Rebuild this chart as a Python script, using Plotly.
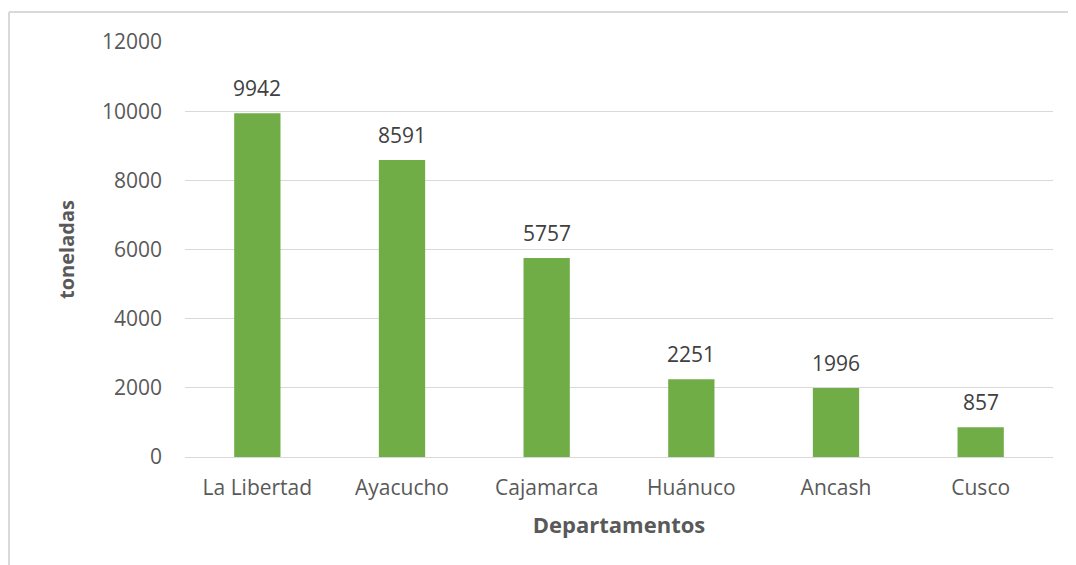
import plotly.graph_objects as go

departamentos = ["La Libertad", "Ayacucho", "Cajamarca", "Huánuco", "Ancash", "Cusco"]
toneladas = [9942, 8591, 5757, 2251, 1996, 857]
y_ticks = [0, 2000, 4000, 6000, 8000, 10000, 12000]
y_tick_labels = ["0", "2000", "4000", "6000", "8000", "10000", "12000"]

FONT = "Open Sans, Liberation Sans, sans-serif"

# page body has an 8px offset; margins compensate
L, T, R, B = 177, 34, 31, 116
PW = 1076 - L - R
PH = 565 - T - B

fig = go.Figure(go.Bar(
    x=departamentos, y=toneladas,
    marker=dict(color="#70ad47", line=dict(width=0)),
    hoverinfo="x+y",
))

for d, v in zip(departamentos, toneladas):
    fig.add_annotation(
        x=d, y=v, text=str(v), showarrow=False,
        xanchor="center", yanchor="bottom", yshift=9,
        font=dict(family=FONT, size=21, color="#404040"),
    )

fig.update_layout(
    width=1076, height=565,
    margin=dict(l=L, r=R, t=T, b=B),
    paper_bgcolor="white", plot_bgcolor="white",
    bargap=0.68, showlegend=False,
    font=dict(family=FONT, color="#595959"),
    xaxis=dict(
        tickfont=dict(size=21, color="#595959"),
        title=dict(text="<b>Departamentos</b>", font=dict(size=22, color="#595959"), standoff=17),
        showgrid=False, showline=False, ticks="", ticklabelstandoff=16,
    ),
    yaxis=dict(
        range=[0, 12000], tickvals=y_ticks, ticktext=y_tick_labels,
        tickfont=dict(size=21, color="#595959"),
        title=dict(text="<b>toneladas</b>", font=dict(size=20, color="#595959"), standoff=21),
        showgrid=True, gridcolor="#d9d9d9", gridwidth=1,
        zeroline=True, zerolinecolor="#d9d9d9", zerolinewidth=1,
        ticks="", ticklabelstandoff=22,
    ),
    shapes=[
        dict(type="line", xref="paper", yref="paper",
             x0=(1 - L) / PW, x1=(1100 - L) / PW, y0=(PH + T - 4) / PH, y1=(PH + T - 4) / PH,
             line=dict(color="#d9d9d9", width=2)),
        dict(type="line", xref="paper", yref="paper",
             x0=(1 - L) / PW, x1=(1 - L) / PW, y0=(PH + T - 4) / PH, y1=-(B + 20) / PH,
             line=dict(color="#d9d9d9", width=2)),
    ],
)

fig.write_html("out.html")
